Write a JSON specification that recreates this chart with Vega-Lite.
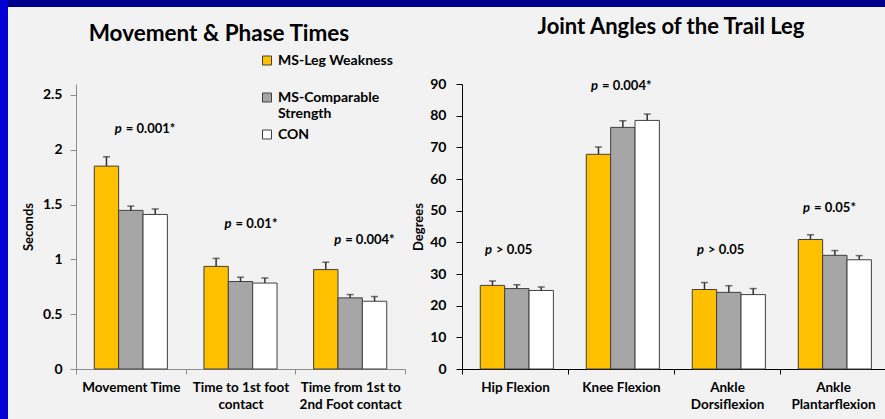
{
  "$schema": "https://vega.github.io/schema/vega-lite/v6.json",
  "padding": 0,
  "background": "#F2F2F2",
  "spacing": 0,
  "config": {
    "view": {"stroke": null},
    "font": "Lato",
    "axis": {"labelFont": "Lato", "titleFont": "Lato", "labelColor": "#000000", "titleColor": "#000000", "grid": false},
    "legend": {"labelFont": "Lato"}
  },
  "datasets": {
    "border": [{"part": "frame"}],
    "times": [
      {"measure": "Movement Time", "group": "MS-Leg Weakness", "mean": 1.851, "err_top": 1.936},
      {"measure": "Movement Time", "group": "MS-Comparable Strength", "mean": 1.447, "err_top": 1.486},
      {"measure": "Movement Time", "group": "CON", "mean": 1.41, "err_top": 1.46},
      {"measure": "Time to 1st foot contact", "group": "MS-Leg Weakness", "mean": 0.936, "err_top": 1.009},
      {"measure": "Time to 1st foot contact", "group": "MS-Comparable Strength", "mean": 0.798, "err_top": 0.837},
      {"measure": "Time to 1st foot contact", "group": "CON", "mean": 0.784, "err_top": 0.83},
      {"measure": "Time from 1st to 2nd Foot contact", "group": "MS-Leg Weakness", "mean": 0.907, "err_top": 0.974},
      {"measure": "Time from 1st to 2nd Foot contact", "group": "MS-Comparable Strength", "mean": 0.649, "err_top": 0.679},
      {"measure": "Time from 1st to 2nd Foot contact", "group": "CON", "mean": 0.618, "err_top": 0.661}
    ],
    "angles": [
      {"measure": "Hip Flexion", "group": "MS-Leg Weakness", "mean": 26.4, "err_top": 27.8},
      {"measure": "Hip Flexion", "group": "MS-Comparable Strength", "mean": 25.4, "err_top": 26.6},
      {"measure": "Hip Flexion", "group": "CON", "mean": 24.8, "err_top": 25.9},
      {"measure": "Knee Flexion", "group": "MS-Leg Weakness", "mean": 67.8, "err_top": 70.1},
      {"measure": "Knee Flexion", "group": "MS-Comparable Strength", "mean": 76.3, "err_top": 78.4},
      {"measure": "Knee Flexion", "group": "CON", "mean": 78.5, "err_top": 80.5},
      {"measure": "Ankle Dorsiflexion", "group": "MS-Leg Weakness", "mean": 25.1, "err_top": 27.3},
      {"measure": "Ankle Dorsiflexion", "group": "MS-Comparable Strength", "mean": 24.2, "err_top": 26.3},
      {"measure": "Ankle Dorsiflexion", "group": "CON", "mean": 23.5, "err_top": 25.4},
      {"measure": "Ankle Plantarflexion", "group": "MS-Leg Weakness", "mean": 40.9, "err_top": 42.4},
      {"measure": "Ankle Plantarflexion", "group": "MS-Comparable Strength", "mean": 35.9, "err_top": 37.4},
      {"measure": "Ankle Plantarflexion", "group": "CON", "mean": 34.5, "err_top": 35.8}
    ],
    "times_p": [
      {"measure": "Movement Time", "stat": "= 0.001*", "at": 2.19},
      {"measure": "Time to 1st foot contact", "stat": "= 0.01*", "at": 1.32},
      {"measure": "Time from 1st to 2nd Foot contact", "stat": "= 0.004*", "at": 1.18}
    ],
    "angles_p": [
      {"measure": "Hip Flexion", "stat": "> 0.05", "at": 37.6},
      {"measure": "Knee Flexion", "stat": "= 0.004*", "at": 89.4},
      {"measure": "Ankle Dorsiflexion", "stat": "> 0.05", "at": 37.6},
      {"measure": "Ankle Plantarflexion", "stat": "= 0.05*", "at": 50.7}
    ]
  },
  "hconcat": [
    {
      "width": 8, "height": 419,
      "view": {"fill": "#0000D4", "stroke": null},
      "data": {"name": "border"},
      "mark": {"type": "point", "opacity": 0},
      "encoding": {}
    },
    {
      "spacing": 8,
      "vconcat": [
        {
          "width": 877, "height": 7,
          "view": {"fill": "#00008E", "stroke": null},
          "data": {"name": "border"},
          "mark": {"type": "point", "opacity": 0},
          "encoding": {}
        },
        {
          "spacing": 6,
          "hconcat": [
            {
              "width": 8, "height": 10,
              "data": {"name": "border"},
              "mark": {"type": "point", "opacity": 0},
              "encoding": {}
            },
            {
              "width": 329, "height": 285,
              "title": {"text": "Movement & Phase Times", "fontSize": 22.5, "fontWeight": "bold", "color": "#000000", "anchor": "middle", "frame": "bounds", "dx": 5, "offset": 38.5},
              "layer": [
                {
                  "data": {"name": "times"},
                  "mark": {"type": "bar", "stroke": "#404040", "strokeWidth": 1},
                  "encoding": {
                    "x": {"field": "measure", "type": "nominal", "sort": ["Movement Time", "Time to 1st foot contact", "Time from 1st to 2nd Foot contact"],
                      "scale": {"paddingInner": 0, "paddingOuter": 0},
                      "axis": {"title": null, "labelAngle": 0, "tickBand": "extent", "tickSize": 5, "domainColor": "#8C8C8C", "tickColor": "#8C8C8C", "labelFontSize": 13.5, "labelFontWeight": "bold", "labelPadding": 6, "labelLineHeight": 17, "labelLimit": 200,
                        "labelExpr": "datum.value == 'Time to 1st foot contact' ? ['Time to 1st foot', 'contact'] : datum.value == 'Time from 1st to 2nd Foot contact' ? ['Time from 1st to', '2nd Foot contact'] : datum.label"}},
                    "xOffset": {"field": "group", "type": "nominal", "sort": ["MS-Leg Weakness", "MS-Comparable Strength", "CON"], "scale": {"paddingInner": 0, "paddingOuter": 0.75}},
                    "y": {"field": "mean", "type": "quantitative", "scale": {"domain": [0, 2.5]},
                      "axis": {"title": "Seconds", "values": [0, 0.5, 1, 1.5, 2, 2.5], "tickCount": 6, "format": "~g", "tickSize": 6, "labelPadding": 8, "labelFontSize": 14, "labelFontWeight": "bold", "labelOverlap": false, "domainColor": "#8C8C8C", "tickColor": "#8C8C8C", "titleFontSize": 13, "titleFontWeight": "bold", "titlePadding": 7}},
                    "color": {"field": "group", "type": "nominal", "sort": ["MS-Leg Weakness", "MS-Comparable Strength", "CON"],
                      "scale": {"domain": ["MS-Leg Weakness", "MS-Comparable Strength", "CON"], "range": ["#FFC000", "#A6A6A6", "#FFFFFF"]},
                      "legend": {"title": null, "orient": "none", "legendX": 260, "legendY": 53.5, "gridAlign": "all", "symbolType": "square", "symbolSize": 81, "symbolStrokeColor": "#404040", "symbolStrokeWidth": 1, "labelFontSize": 14, "labelFontWeight": "bold", "labelColor": "#000000", "labelOffset": 4, "rowPadding": 7, "labelLimit": 300,
                        "labelExpr": "datum.label == 'MS-Comparable Strength' ? ['MS-Comparable', 'Strength'] : datum.label"}}
                  }
                },
                {
                  "data": {"name": "times"},
                  "mark": {"type": "rule", "color": "#333333", "strokeWidth": 1.5},
                  "encoding": {
                    "x": {"field": "measure", "type": "nominal", "sort": ["Movement Time", "Time to 1st foot contact", "Time from 1st to 2nd Foot contact"]},
                    "xOffset": {"field": "group", "type": "nominal", "sort": ["MS-Leg Weakness", "MS-Comparable Strength", "CON"]},
                    "y": {"field": "mean", "type": "quantitative"},
                    "y2": {"field": "err_top"}
                  }
                },
                {
                  "data": {"name": "times"},
                  "mark": {"type": "tick", "color": "#333333", "size": 7, "thickness": 1.5},
                  "encoding": {
                    "x": {"field": "measure", "type": "nominal", "sort": ["Movement Time", "Time to 1st foot contact", "Time from 1st to 2nd Foot contact"]},
                    "xOffset": {"field": "group", "type": "nominal", "sort": ["MS-Leg Weakness", "MS-Comparable Strength", "CON"]},
                    "y": {"field": "err_top", "type": "quantitative"}
                  }
                },
                {
                  "data": {"name": "times_p"},
                  "mark": {"type": "text", "text": "p", "fontSize": 13, "fontWeight": "bold", "fontStyle": "italic", "align": "right", "baseline": "middle", "dx": -9, "color": "#000000"},
                  "encoding": {
                    "x": {"field": "measure", "type": "nominal", "sort": ["Movement Time", "Time to 1st foot contact", "Time from 1st to 2nd Foot contact"]},
                    "y": {"field": "at", "type": "quantitative"}
                  }
                },
                {
                  "data": {"name": "times_p"},
                  "mark": {"type": "text", "fontSize": 13, "fontWeight": "bold", "align": "left", "baseline": "middle", "dx": -5, "color": "#000000"},
                  "encoding": {
                    "x": {"field": "measure", "type": "nominal", "sort": ["Movement Time", "Time to 1st foot contact", "Time from 1st to 2nd Foot contact"]},
                    "y": {"field": "at", "type": "quantitative"},
                    "text": {"field": "stat"}
                  }
                }
              ]
            },
            {
              "width": 424, "height": 285,
              "title": {"text": "Joint Angles of the Trail Leg", "fontSize": 22, "fontWeight": "bold", "color": "#000000", "anchor": "middle", "frame": "group", "dx": -3, "offset": 38.5},
              "layer": [
                {
                  "data": {"name": "angles"},
                  "mark": {"type": "bar", "stroke": "#404040", "strokeWidth": 1},
                  "encoding": {
                    "x": {"field": "measure", "type": "nominal", "sort": ["Hip Flexion", "Knee Flexion", "Ankle Dorsiflexion", "Ankle Plantarflexion"],
                      "scale": {"paddingInner": 0, "paddingOuter": 0},
                      "axis": {"title": null, "labelAngle": 0, "tickBand": "extent", "tickSize": 5, "domainColor": "#000000", "tickColor": "#000000", "labelFontSize": 13.5, "labelFontWeight": "bold", "labelPadding": 6, "labelLineHeight": 17, "labelLimit": 200,
                        "labelExpr": "datum.value == 'Ankle Dorsiflexion' ? ['Ankle', 'Dorsiflexion'] : datum.value == 'Ankle Plantarflexion' ? ['Ankle', 'Plantarflexion'] : datum.label"}},
                    "xOffset": {"field": "group", "type": "nominal", "sort": ["MS-Leg Weakness", "MS-Comparable Strength", "CON"], "scale": {"paddingInner": 0, "paddingOuter": 0.78}},
                    "y": {"field": "mean", "type": "quantitative", "scale": {"domain": [0, 90], "nice": false},
                      "axis": {"title": "Degrees", "values": [0, 10, 20, 30, 40, 50, 60, 70, 80, 90], "tickCount": 10, "tickSize": 6, "labelPadding": 10, "labelFontSize": 14, "labelFontWeight": "bold", "labelOverlap": false, "domainColor": "#000000", "tickColor": "#000000", "titleFontSize": 13, "titleFontWeight": "bold", "titlePadding": 4}},
                    "color": {"field": "group", "type": "nominal", "sort": ["MS-Leg Weakness", "MS-Comparable Strength", "CON"],
                      "scale": {"domain": ["MS-Leg Weakness", "MS-Comparable Strength", "CON"], "range": ["#FFC000", "#A6A6A6", "#FFFFFF"]},
                      "legend": null}
                  }
                },
                {
                  "data": {"name": "angles"},
                  "mark": {"type": "rule", "color": "#333333", "strokeWidth": 1.5},
                  "encoding": {
                    "x": {"field": "measure", "type": "nominal", "sort": ["Hip Flexion", "Knee Flexion", "Ankle Dorsiflexion", "Ankle Plantarflexion"]},
                    "xOffset": {"field": "group", "type": "nominal", "sort": ["MS-Leg Weakness", "MS-Comparable Strength", "CON"]},
                    "y": {"field": "mean", "type": "quantitative"},
                    "y2": {"field": "err_top"}
                  }
                },
                {
                  "data": {"name": "angles"},
                  "mark": {"type": "tick", "color": "#333333", "size": 7, "thickness": 1.5},
                  "encoding": {
                    "x": {"field": "measure", "type": "nominal", "sort": ["Hip Flexion", "Knee Flexion", "Ankle Dorsiflexion", "Ankle Plantarflexion"]},
                    "xOffset": {"field": "group", "type": "nominal", "sort": ["MS-Leg Weakness", "MS-Comparable Strength", "CON"]},
                    "y": {"field": "err_top", "type": "quantitative"}
                  }
                },
                {
                  "data": {"name": "angles_p"},
                  "mark": {"type": "text", "text": "p", "fontSize": 13, "fontWeight": "bold", "fontStyle": "italic", "align": "right", "baseline": "middle", "dx": -23, "color": "#000000"},
                  "encoding": {
                    "x": {"field": "measure", "type": "nominal", "sort": ["Hip Flexion", "Knee Flexion", "Ankle Dorsiflexion", "Ankle Plantarflexion"]},
                    "y": {"field": "at", "type": "quantitative"}
                  }
                },
                {
                  "data": {"name": "angles_p"},
                  "mark": {"type": "text", "fontSize": 13, "fontWeight": "bold", "align": "left", "baseline": "middle", "dx": -19, "color": "#000000"},
                  "encoding": {
                    "x": {"field": "measure", "type": "nominal", "sort": ["Hip Flexion", "Knee Flexion", "Ankle Dorsiflexion", "Ankle Plantarflexion"]},
                    "y": {"field": "at", "type": "quantitative"},
                    "text": {"field": "stat"}
                  }
                }
              ]
            }
          ]
        }
      ]
    }
  ]
}
